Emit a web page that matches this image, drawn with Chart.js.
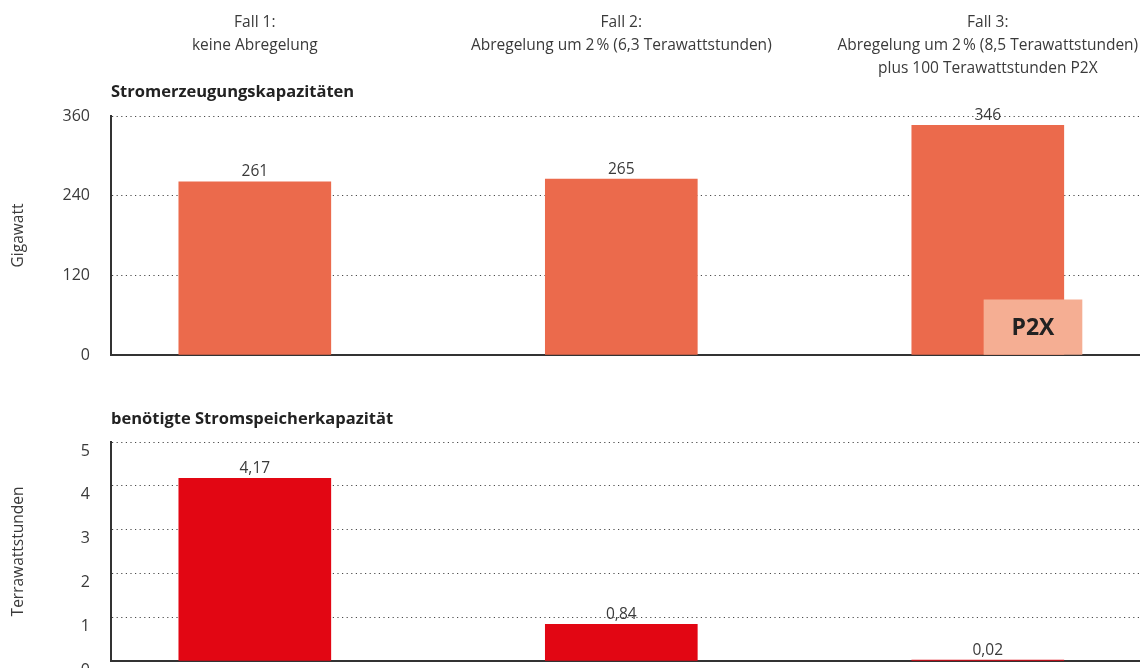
<!DOCTYPE html>
<html>
<head>
<meta charset="utf-8">
<script src="https://cdn.jsdelivr.net/npm/chart.js@4.4.1/dist/chart.umd.min.js"></script>
<style>
  html, body { margin: 0; padding: 0; background: #ffffff; width: 1140px; height: 668px; overflow: hidden; }
  #c1 { position: absolute; left: 0; top: 0; }
  #c2 { position: absolute; left: 0; top: 380px; }
</style>
</head>
<body>
<canvas id="c1" width="1140" height="380"></canvas>
<canvas id="c2" width="1140" height="288"></canvas>
<script>
// ---------- data ----------
const categories = [
  ['Fall 1:', 'keine Abregelung'],
  ['Fall 2:', 'Abregelung um 2\u202F% (6,3 Terawattstunden)'],
  ['Fall 3:', 'Abregelung um 2\u202F% (8,5 Terawattstunden)', 'plus 100 Terawattstunden P2X']
];
const capacityTitle = 'Stromerzeugungskapazitäten';
const storageTitle = 'benötigte Stromspeicherkapazität';
const capacityUnit = 'Gigawatt';
const storageUnit = 'Terrawattstunden';
const capacityGW = [261, 265, 346];
const p2xLabel = 'P2X';
const p2xGW = [null, null, 83];
const storageTWh = [4.17, 0.84, 0.02];
const capacityTicks = [0, 120, 240, 360];
const storageTicks = [0, 1, 2, 3, 4, 5];

// ---------- styling ----------
const TEXT = '#3a3a3a';
const FONT = "'Open Sans', 'Noto Sans', sans-serif";
Chart.defaults.font.family = FONT;
Chart.defaults.color = TEXT;

const X_MIN = -0.3924, X_MAX = 2.4153;   // axis range (layout of the three cases)
const P2X_SHIFT = 0.1233;                // P2X bar sits right of the main bar

const fmt = (v, d) => v.toFixed(d).replace('.', ',');
const toPoints = arr => arr.map((v, i) => ({ x: i, y: v })).filter(p => p.y !== null);

const labelsPlugin = {
  id: 'labelsPlugin',
  afterDatasetsDraw(chart, args, opts) {
    const ctx = chart.ctx;
    ctx.save();
    // panel title
    ctx.font = `bold 16.5px ${FONT}`;
    ctx.fillStyle = '#222';
    ctx.textAlign = 'left';
    ctx.textBaseline = 'middle';
    ctx.fillText(opts.title, chart.chartArea.left, chart.chartArea.top - opts.titleGap);
    chart.data.datasets.forEach((ds, di) => {
      const meta = chart.getDatasetMeta(di);
      meta.data.forEach((bar, i) => {
        const v = ds.data[i].y;
        if (ds.inner) {
          ctx.font = `bold 23px ${FONT}`;
          ctx.fillStyle = '#222';
          ctx.textAlign = 'center';
          ctx.textBaseline = 'middle';
          ctx.fillText(ds.label, bar.x, (bar.y + bar.base) / 2 + 1);
        } else {
          ctx.font = `15.5px ${FONT}`;
          ctx.fillStyle = TEXT;
          ctx.textAlign = 'center';
          ctx.textBaseline = 'bottom';
          ctx.fillText(fmt(v, ds.decimals), bar.x, bar.y - 2);
        }
      });
    });
    ctx.restore();
  }
};

const categoryTicks = s => { s.ticks = categories.map((c, i) => ({ value: i })); };

function yAxis(ticksArr, unit, labelOffset) {
  return {
    position: 'left',
    min: ticksArr[0],
    max: ticksArr[ticksArr.length - 1],
    afterBuildTicks: s => { s.ticks = ticksArr.map(v => ({ value: v })); },
    afterFit: s => { s.width = 111; s.paddingTop = 0; s.paddingBottom = 0; },
    ticks: { font: { size: 16 }, color: TEXT, padding: 21, labelOffset: labelOffset, callback: v => String(v) },
    grid: {
      drawTicks: false,
      lineWidth: 1,
      color: c => (c.tick && c.tick.value === 0) ? 'rgba(0,0,0,0)' : '#4a4a4a'
    },
    border: { display: true, width: 2, color: '#333', dash: [1.2, 3.4] },
    title: { display: true, text: unit, font: { size: 15.5 }, color: TEXT, padding: { top: 9, bottom: 0 } }
  };
}

function xAxis(shift) {
  return {
    type: 'linear',
    position: 'bottom',
    offset: false,
    min: X_MIN - shift,
    max: X_MAX - shift,
    display: shift === 0,
    afterBuildTicks: categoryTicks,
    ticks: { display: false },
    grid: { display: false, drawTicks: false, offset: false },
    border: { display: true, width: 2, color: '#333' },
    afterFit: s => { s.height = 0; s.paddingLeft = 0; s.paddingRight = 0; }
  };
}

// ---------- top chart ----------
new Chart(document.getElementById('c1'), {
  type: 'bar',
  data: {
    datasets: [
      {
        label: p2xLabel,
        data: toPoints(p2xGW),
        xAxisID: 'xP',
        backgroundColor: '#F5AE93',
        grouped: false,
        barThickness: 98,
        maxBarThickness: 98,
        inner: true,
        order: 0
      },
      {
        label: capacityTitle,
        data: toPoints(capacityGW),
        xAxisID: 'x',
        backgroundColor: '#EB6A4C',
        grouped: false,
        barThickness: 152,
        maxBarThickness: 152,
        decimals: 0,
        order: 1
      }
    ]
  },
  options: {
    responsive: false,
    animation: false,
    layout: { padding: { top: 0, right: 0, bottom: 25, left: 0 } },
    plugins: {
      legend: { display: false },
      tooltip: { enabled: false },
      labelsPlugin: { title: capacityTitle, titleGap: 24 }
    },
    scales: {
      x: xAxis(0),
      xP: xAxis(P2X_SHIFT),
      xTop: {
        type: 'linear',
        position: 'top',
        offset: false,
        min: X_MIN,
        max: X_MAX,
        afterBuildTicks: categoryTicks,
        afterFit: s => { s.height = 116; s.paddingLeft = 0; s.paddingRight = 0; },
        ticks: {
          autoSkip: false, maxRotation: 0, minRotation: 0,
          crossAlign: 'far',
          padding: 36,
          font: { size: 15.5, lineHeight: 1.49 },
          color: TEXT,
          callback: v => categories[v]
        },
        grid: { display: false, drawTicks: false, offset: false },
        border: { display: false }
      },
      y: yAxis(capacityTicks, capacityUnit, 0)
    }
  },
  plugins: [labelsPlugin]
});

// ---------- bottom chart ----------
new Chart(document.getElementById('c2'), {
  type: 'bar',
  data: {
    datasets: [
      {
        label: storageTitle,
        data: toPoints(storageTWh),
        xAxisID: 'x',
        backgroundColor: '#E20613',
        grouped: false,
        barThickness: 152,
        maxBarThickness: 152,
        decimals: 2
      }
    ]
  },
  options: {
    responsive: false,
    animation: false,
    layout: { padding: { top: 62, right: 0, bottom: 7, left: 0 } },
    plugins: {
      legend: { display: false },
      tooltip: { enabled: false },
      labelsPlugin: { title: storageTitle, titleGap: 23 }
    },
    scales: {
      x: xAxis(0),
      y: yAxis(storageTicks, storageUnit, 9)
    }
  },
  plugins: [labelsPlugin]
});
</script>
</body>
</html>
